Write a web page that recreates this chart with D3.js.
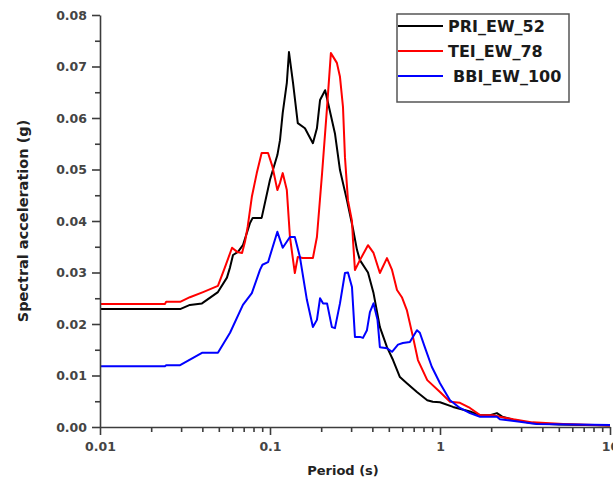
<!DOCTYPE html>
<html>
<head>
<meta charset="utf-8">
<script src="https://cdn.jsdelivr.net/npm/d3@7"></script>
<style>
  body { margin: 0; background: #fff; }
  text { font-family: "DejaVu Sans", Verdana, sans-serif; font-weight: bold; }
</style>
</head>
<body>
<div id="chart"></div>
<script>
// Period (s) and spectral acceleration (g)
const priPeriod = [0.01, 0.0296, 0.0338, 0.0398, 0.0494, 0.0558, 0.0582, 0.0606, 0.0648, 0.0693, 0.0731, 0.0763, 0.0791, 0.0893, 0.1, 0.1105, 0.1145, 0.1188, 0.1256, 0.1293, 0.1366, 0.1457, 0.1605, 0.1788, 0.1888, 0.197, 0.211, 0.2196, 0.241, 0.258, 0.2836, 0.3077, 0.3248, 0.338, 0.377, 0.4064, 0.443, 0.4876, 0.5294, 0.581, 0.6381, 0.7316, 0.8413, 0.907, 1.0, 1.193, 1.5, 1.72, 1.97, 2.162, 2.323, 2.697, 3.379, 5.0, 10];
const priSa = [0.0229, 0.0229, 0.0237, 0.024, 0.0262, 0.029, 0.031, 0.0334, 0.034, 0.0353, 0.0377, 0.0396, 0.0406, 0.0406, 0.048, 0.0528, 0.0557, 0.061, 0.0668, 0.0728, 0.0668, 0.059, 0.058, 0.0551, 0.058, 0.0635, 0.0654, 0.0629, 0.057, 0.0499, 0.044, 0.0385, 0.0344, 0.0324, 0.030, 0.026, 0.0194, 0.0155, 0.013, 0.0097, 0.0085, 0.0068, 0.0052, 0.0049, 0.0048, 0.0039, 0.003, 0.0023, 0.0023, 0.0027, 0.002, 0.0014, 0.0008, 0.0005, 0.0003];

const teiPeriod = [0.01, 0.0241, 0.0245, 0.0296, 0.0338, 0.0404, 0.0494, 0.0543, 0.0598, 0.0641, 0.0685, 0.0713, 0.074, 0.0782, 0.0836, 0.0893, 0.0974, 0.1035, 0.1105, 0.1145, 0.1188, 0.1256, 0.131, 0.140, 0.1457, 0.1559, 0.1788, 0.1888, 0.2025, 0.2166, 0.2281, 0.2474, 0.258, 0.2688, 0.276, 0.2875, 0.3035, 0.3077, 0.316, 0.338, 0.377, 0.4064, 0.443, 0.4876, 0.5222, 0.5585, 0.5967, 0.6381, 0.6933, 0.7416, 0.8413, 1.0, 1.145, 1.31, 1.5, 1.72, 2.048, 2.25, 2.697, 3.5, 5.3, 10];
const teiSa = [0.0239, 0.0239, 0.0243, 0.0243, 0.0252, 0.0262, 0.0274, 0.031, 0.0348, 0.034, 0.0338, 0.036, 0.039, 0.0447, 0.0493, 0.0532, 0.0532, 0.0505, 0.046, 0.0474, 0.0493, 0.046, 0.0369, 0.0299, 0.033, 0.0328, 0.0328, 0.0369, 0.0493, 0.0621, 0.0726, 0.0707, 0.068, 0.0621, 0.0524, 0.044, 0.040, 0.0363, 0.0305, 0.0324, 0.0353, 0.0338, 0.0299, 0.0328, 0.0305, 0.0266, 0.0252, 0.0227, 0.0175, 0.013, 0.0091, 0.0068, 0.0049, 0.0047, 0.0037, 0.0023, 0.0023, 0.002, 0.0015, 0.0009, 0.0006, 0.0003];

const bbiPeriod = [0.01, 0.0241, 0.0245, 0.0296, 0.0398, 0.0494, 0.0582, 0.0693, 0.0782, 0.0873, 0.0903, 0.0974, 0.1105, 0.1188, 0.131, 0.140, 0.150, 0.1605, 0.1648, 0.1788, 0.1888, 0.197, 0.2053, 0.2166, 0.2312, 0.241, 0.258, 0.276, 0.2875, 0.3035, 0.316, 0.338, 0.3523, 0.3718, 0.387, 0.4064, 0.4289, 0.443, 0.4876, 0.5222, 0.5662, 0.6045, 0.665, 0.7316, 0.761, 0.814, 0.8947, 1.0, 1.145, 1.31, 1.5, 1.72, 2.162, 2.25, 2.95, 3.69, 10];
const bbiSa = [0.0118, 0.0118, 0.012, 0.012, 0.0144, 0.0144, 0.0183, 0.0237, 0.026, 0.0305, 0.0315, 0.032, 0.0379, 0.0348, 0.0369, 0.0369, 0.033, 0.027, 0.0247, 0.0194, 0.0208, 0.025, 0.024, 0.024, 0.0194, 0.0192, 0.024, 0.0299, 0.030, 0.0272, 0.0175, 0.0175, 0.0173, 0.0188, 0.0223, 0.024, 0.0208, 0.0155, 0.0153, 0.0146, 0.016, 0.0163, 0.0165, 0.0188, 0.0183, 0.0155, 0.0117, 0.0085, 0.0052, 0.0037, 0.0027, 0.002, 0.002, 0.0015, 0.001, 0.0006, 0.0004];

const seriesNames = ["PRI_EW_52", "TEI_EW_78", "BBI_EW_100"];
const seriesColors = ["#000000", "#ff0000", "#0000ff"];
const xMajorTicks = [0.01, 0.1, 1, 10];
const xTickLabels = ["0.01", "0.1", "1", "10"];
const yMajorTicks = [0, 0.01, 0.02, 0.03, 0.04, 0.05, 0.06, 0.07, 0.08];

const width = 613;
const height = 489;
const margin = { top: 15, right: 3, bottom: 62, left: 100 };

const svg = d3.select("#chart")
	.append("svg")
	.attr("width", width)
	.attr("height", height);

const x = d3.scaleLog()
	.domain([0.01, 10])
	.range([margin.left, 610]);

const y = d3.scaleLinear()
	.domain([0, 0.08])
	.range([height - margin.bottom, margin.top]);

// minor ticks: 2..9 in each decade
const xMinorTicks = [];
[0.01, 0.1, 1].forEach((d) => {
	for (let k = 2; k <= 9; k++) xMinorTicks.push(d * k);
});
const yMinorTicks = yMajorTicks.slice(0, -1).map((d) => d + 0.005);

svg.append("defs")
	.append("clipPath")
	.attr("id", "plot-clip")
	.append("rect")
	.attr("x", margin.left)
	.attr("y", margin.top - 2)
	.attr("width", 610 - margin.left)
	.attr("height", height - margin.bottom - margin.top + 2);

const series = [
	{ name: seriesNames[0], color: seriesColors[0], values: priPeriod.map((p, i) => [p, priSa[i]]) },
	{ name: seriesNames[1], color: seriesColors[1], values: teiPeriod.map((p, i) => [p, teiSa[i]]) },
	{ name: seriesNames[2], color: seriesColors[2], values: bbiPeriod.map((p, i) => [p, bbiSa[i]]) },
];

const line = d3.line()
	.x((d) => x(d[0]))
	.y((d) => y(d[1]));

svg.append("g")
	.attr("clip-path", "url(#plot-clip)")
	.selectAll("path")
	.data(series)
	.enter()
	.append("path")
	.attr("d", (d) => line(d.values))
	.attr("fill", "none")
	.attr("stroke", (d) => d.color)
	.attr("stroke-width", 2)
	.attr("stroke-linejoin", "round");

// x axis
const xAxis = svg.append("g")
	.attr("transform", `translate(0,${y(0)})`)
	.call(d3.axisBottom(x)
		.tickValues(xMajorTicks)
		.tickFormat((d, i) => xTickLabels[i])
		.tickSize(8)
		.tickSizeOuter(0)
		.tickPadding(4));

svg.append("g")
	.attr("transform", `translate(0,${y(0)})`)
	.call(d3.axisBottom(x)
		.tickValues(xMinorTicks)
		.tickFormat("")
		.tickSize(5)
		.tickSizeOuter(0))
	.select(".domain").remove();

// y axis
const yAxis = svg.append("g")
	.attr("transform", `translate(${x(0.01)},0)`)
	.call(d3.axisLeft(y)
		.tickValues(yMajorTicks)
		.tickFormat(d3.format(".2f"))
		.tickSize(8)
		.tickSizeOuter(0)
		.tickPadding(5));

svg.append("g")
	.attr("transform", `translate(${x(0.01)},0)`)
	.call(d3.axisLeft(y)
		.tickValues(yMinorTicks)
		.tickFormat("")
		.tickSize(5)
		.tickSizeOuter(0))
	.select(".domain").remove();

svg.selectAll(".domain, .tick line")
	.attr("stroke", "#3c3c3c")
	.attr("stroke-width", 1.6);

svg.selectAll(".tick text")
	.attr("fill", "#444")
	.style("font-size", "12.5px");

xAxis.selectAll(".tick text").attr("dy", "0.95em");

// axis titles
svg.append("text")
	.attr("x", 343)
	.attr("y", 475)
	.attr("text-anchor", "middle")
	.attr("fill", "#222")
	.style("font-size", "13px")
	.text("Period (s)");

svg.append("text")
	.attr("transform", `translate(28,221) rotate(-90)`)
	.attr("text-anchor", "middle")
	.attr("fill", "#222")
	.style("font-size", "14.5px")
	.text("Spectral acceleration (g)");

// legend
const legend = svg.append("g");

legend.append("rect")
	.attr("x", 397)
	.attr("y", 14)
	.attr("width", 172)
	.attr("height", 88)
	.attr("fill", "#fff")
	.attr("stroke", "#555")
	.attr("stroke-width", 1.5);

const legendItems = legend.selectAll("g.item")
	.data(series)
	.enter()
	.append("g")
	.attr("class", "item")
	.attr("transform", (d, i) => `translate(398, ${26 + i * 25})`);

legendItems.append("line")
	.attr("x1", 0)
	.attr("x2", 45)
	.attr("stroke", (d) => d.color)
	.attr("stroke-width", 2);

legendItems.append("text")
	.attr("x", (d, i) => (i === 2 ? 55 : 50))
	.attr("dy", "0.35em")
	.attr("fill", "#1a1a1a")
	.style("font-size", "16px")
	.text((d) => d.name);
</script>
</body>
</html>
